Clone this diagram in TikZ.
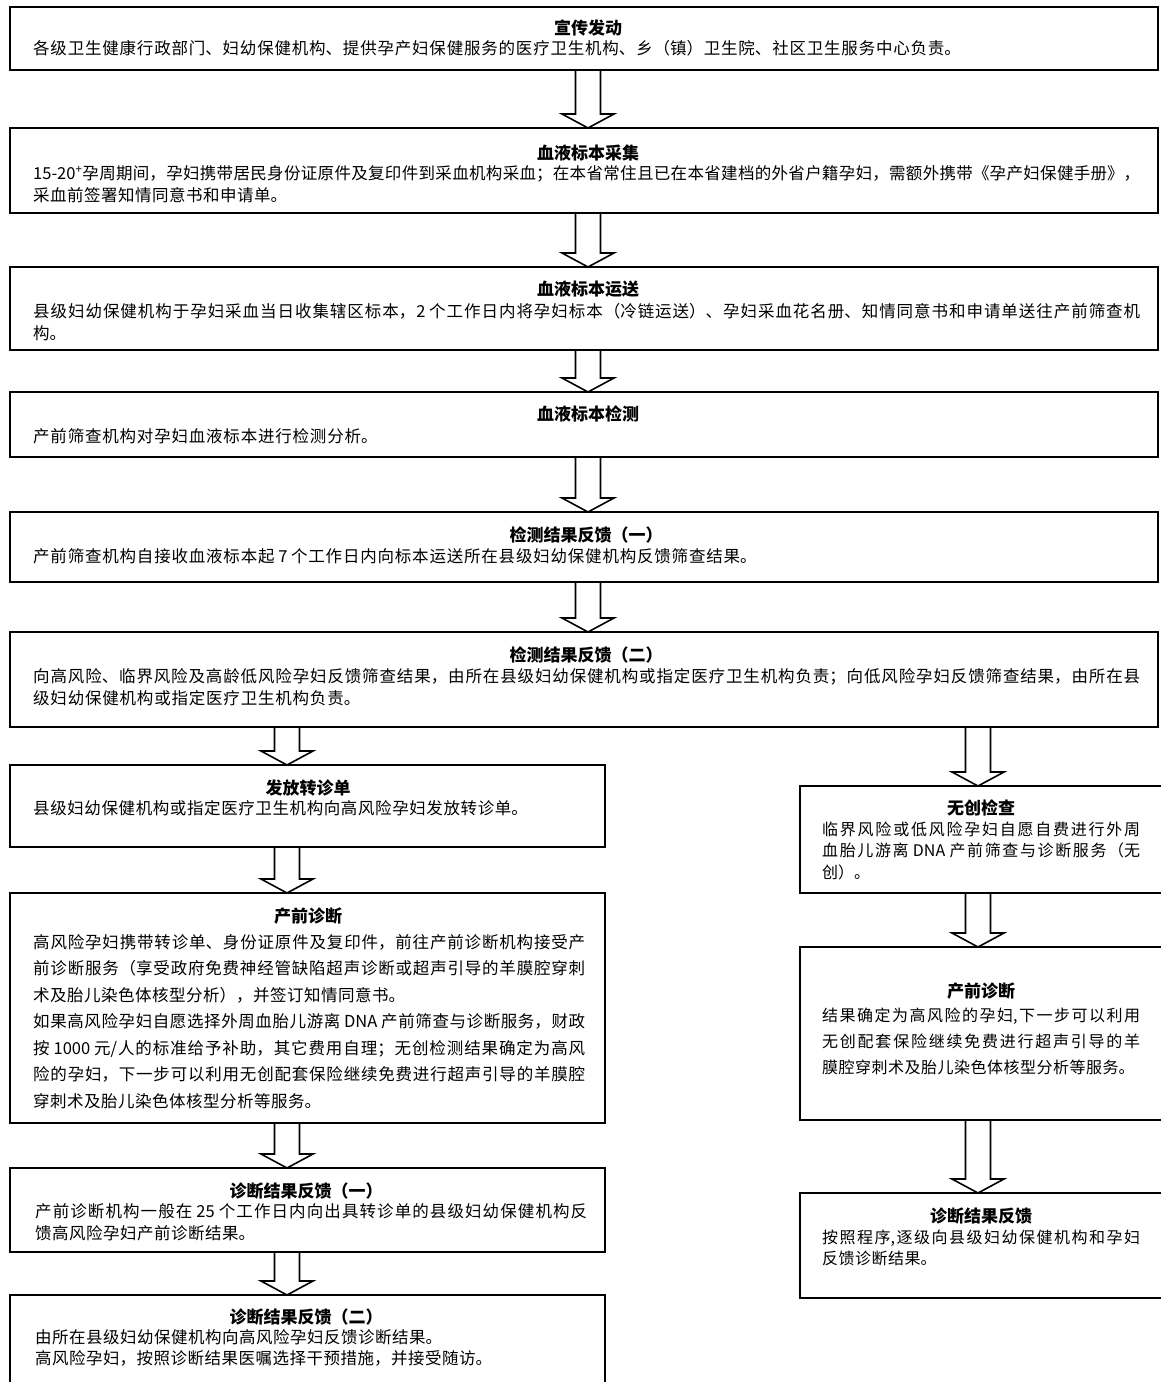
\documentclass[tikz,border=0pt]{standalone}
\usepackage{fontspec}
\setmainfont{Noto Sans CJK SC}
\usetikzlibrary{calc}
\XeTeXlinebreaklocale "zh"
\XeTeXlinebreakskip=0.5pt plus 3pt minus 0.2pt
\setlength{\parindent}{0pt}
\tikzset{
  box/.style={draw, line width=1.6pt, rectangle, inner sep=0pt, outer sep=0pt, anchor=north west},
  ttl/.style={inner sep=0pt, font=\fontsize{17pt}{20pt}\selectfont\bfseries},
  bodytext/.style={inner sep=0pt, anchor=north west, align=justify},
  mainbody/.style={bodytext, text width=1107pt},
  leftbody/.style={bodytext, text width=552pt},
  rightbody/.style={bodytext, text width=318pt},
  barrow/.style={draw, line width=1.6pt, line join=miter},
}
\newcommand{\blockarr}[3]{%
  \draw[barrow] let \p1=(#2.south), \p2=(#3.north) in
   (#1pt-12.5pt,\y1) -- (#1pt-12.5pt,\y2+14pt) -- (#1pt-26pt,\y2+14pt) -- (#1pt,\y2)
   -- (#1pt+26pt,\y2+14pt) -- (#1pt+12.5pt,\y2+14pt) -- (#1pt+12.5pt,\y1);
}
\newcommand{\fmain}{\fontsize{16.5pt}{22pt}\selectfont\XeTeXlinebreakskip=0.8pt plus 3pt minus 0.3pt\relax}
\newcommand{\ftight}{\fontsize{16.5pt}{22pt}\selectfont\XeTeXlinebreakskip=0.5pt plus 3pt minus 0.3pt\relax}
\newcommand{\fleft}{\fontsize{16.5pt}{22pt}\selectfont\XeTeXlinebreakskip=0.6pt plus 3pt minus 0.3pt\relax}
\begin{document}
\begin{tikzpicture}[x=1pt,y=-1pt]
\useasboundingbox (0,0) rectangle (1161,1382);
\fill[white] (0,0) rectangle (1161,1382);

% main column boxes
\node[box, minimum width=1148pt, minimum height=63pt] (b1) at (10,7) {};
\node[box, minimum width=1148pt, minimum height=85pt] (b2) at (10,128) {};
\node[box, minimum width=1148pt, minimum height=83pt] (b3) at (10,267) {};
\node[box, minimum width=1148pt, minimum height=65pt] (b4) at (10,392) {};
\node[box, minimum width=1148pt, minimum height=70pt] (b5) at (10,512) {};
\node[box, minimum width=1148pt, minimum height=95pt] (b6) at (10,632) {};
% left column
\node[box, minimum width=595pt, minimum height=82pt] (b7) at (10,765) {};
\node[box, minimum width=595pt, minimum height=230pt] (b8) at (10,893) {};
\node[box, minimum width=595pt, minimum height=84pt] (b9) at (10,1168) {};
\node[box, minimum width=595pt, minimum height=91pt] (b10) at (10,1295) {};
% right column
\node[box, minimum width=365pt, minimum height=107pt] (b11) at (800,786) {};
\node[box, minimum width=365pt, minimum height=173pt] (b12) at (800,947) {};
\node[box, minimum width=365pt, minimum height=105pt] (b13) at (800,1193) {};

% titles
\node[ttl] (t1) at (588,28) {宣传发动};
\node[ttl] (t2) at (588,153) {血液标本采集};
\node[ttl] (t3) at (588,289) {血液标本运送};
\node[ttl] (t4) at (588,414) {血液标本检测};
\node[ttl] (t5) at (586,535) {检测结果反馈（一）};
\node[ttl] (t6) at (586,655) {检测结果反馈（二）};
\node[ttl] (t7) at (308,788) {发放转诊单};
\node[ttl] (t8) at (308,916) {产前诊断};
\node[ttl] (t9) at (306,1191) {诊断结果反馈（一）};
\node[ttl] (t10) at (306,1317) {诊断结果反馈（二）};
\node[ttl] (t11) at (981,808) {无创检查};
\node[ttl] (t12) at (981,991) {产前诊断};
\node[ttl] (t13) at (981,1216) {诊断结果反馈};

% bodies
\node[mainbody, font=\fmain] (d1) at (33,38.9) {\strut 各级卫生健康行政部门、妇幼保健机构、提供孕产妇保健服务的医疗卫生机构、乡（镇）卫生院、社区卫生服务中心负责。};
\node[mainbody, font=\ftight] (d2) at (33,163.9) {\strut 15-20\textsuperscript{+}孕周期间，孕妇携带居民身份证原件及复印件到采血机构采血；在本省常住且已在本省建档的外省户籍孕妇，需额外携带《孕产妇保健手册》，\linebreak 采血前签署知情同意书和申请单。};
\node[mainbody, font=\fmain] (d3) at (33,301.9) {\strut 县级妇幼保健机构于孕妇采血当日收集辖区标本，2 个工作日内将孕妇标本（冷链运送）、孕妇采血花名册、知情同意书和申请单送往产前筛查机\linebreak 构。};
\node[mainbody, font=\fmain] (d4) at (33,426.9) {\strut 产前筛查机构对孕妇血液标本进行检测分析。};
\node[mainbody, font=\fmain] (d5) at (33,546.9) {\strut 产前筛查机构自接收血液标本起 7 个工作日内向标本运送所在县级妇幼保健机构反馈筛查结果。};
\node[mainbody, font=\fmain] (d6) at (33,666.9) {\strut 向高风险、临界风险及高龄低风险孕妇反馈筛查结果，由所在县级妇幼保健机构或指定医疗卫生机构负责；向低风险孕妇反馈筛查结果，由所在县\linebreak 级妇幼保健机构或指定医疗卫生机构负责。};
\node[leftbody, font=\fleft] (d7) at (33,798.9) {\strut 县级妇幼保健机构或指定医疗卫生机构向高风险孕妇发放转诊单。};
\node[leftbody, font=\fontsize{16.5pt}{26.5pt}\selectfont] (d8) at (33,929.7) {\strut 高风险孕妇携带转诊单、身份证原件及复印件，前往产前诊断机构接受产\linebreak 前诊断服务（享受政府免费神经管缺陷超声诊断或超声引导的羊膜腔穿刺\linebreak 术及胎儿染色体核型分析），并签订知情同意书。\par\strut 如果高风险孕妇自愿选择外周血胎儿游离 DNA 产前筛查与诊断服务，财政\linebreak 按 1000 元/人的标准给予补助，其它费用自理；无创检测结果确定为高风\linebreak 险的孕妇，下一步可以利用无创配套保险继续免费进行超声引导的羊膜腔\linebreak 穿刺术及胎儿染色体核型分析等服务。};
\node[leftbody, font=\fontsize{16.5pt}{22pt}\selectfont] (d9) at (35,1201.9) {\strut 产前诊断机构一般在 25 个工作日内向出具转诊单的县级妇幼保健机构反\linebreak 馈高风险孕妇产前诊断结果。};
\node[leftbody, font=\fontsize{16.5pt}{21.5pt}\selectfont] (d10) at (35,1328.2) {\strut 由所在县级妇幼保健机构向高风险孕妇反馈诊断结果。\par\strut 高风险孕妇，按照诊断结果医嘱选择干预措施，并接受随访。};
\node[rightbody, font=\fontsize{16pt}{21.5pt}\selectfont] (d11) at (822,820) {\strut 临界风险或低风险孕妇自愿自费进行外周\linebreak 血胎儿游离 DNA 产前筛查与诊断服务（无\linebreak 创）。};
\node[rightbody, font=\fontsize{16pt}{26pt}\selectfont] (d12) at (822,1002.9) {\strut 结果确定为高风险的孕妇,下一步可以利用\linebreak 无创配套保险继续免费进行超声引导的羊\linebreak 膜腔穿刺术及胎儿染色体核型分析等服务。};
\node[rightbody, font=\fontsize{16pt}{21.5pt}\selectfont] (d13) at (822,1228) {\strut 按照程序,逐级向县级妇幼保健机构和孕妇\linebreak 反馈诊断结果。};

% block arrows
\blockarr{588}{b1}{b2}
\blockarr{588}{b2}{b3}
\blockarr{588}{b3}{b4}
\blockarr{588}{b4}{b5}
\blockarr{588}{b5}{b6}
\blockarr{287}{b6}{b7}
\blockarr{978}{b6}{b11}
\blockarr{287}{b7}{b8}
\blockarr{978}{b11}{b12}
\blockarr{287}{b8}{b9}
\blockarr{978}{b12}{b13}
\blockarr{287}{b9}{b10}
\end{tikzpicture}
\end{document}
